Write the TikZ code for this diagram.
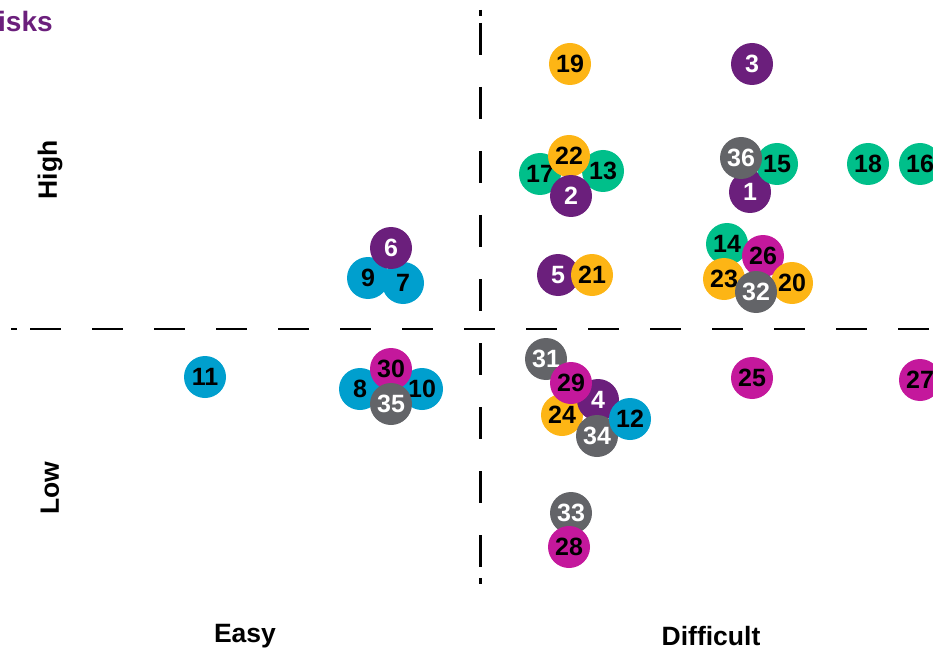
\documentclass[tikz,border=0pt]{standalone}
\usepackage{fontspec}
\setmainfont{Liberation Sans}
\usepackage{tikz}

\definecolor{rpurple}{HTML}{6B1F7C}
\definecolor{rorange}{HTML}{FDB515}
\definecolor{rgreen}{HTML}{00BF8A}
\definecolor{rblue}{HTML}{009FCE}
\definecolor{rmagenta}{HTML}{C4189C}
\definecolor{rgray}{HTML}{636468}

\begin{document}
\begin{tikzpicture}[
    x = 1pt, y = -1pt,
    risk/.style = {circle, inner sep = 0pt, minimum size = 42pt,
      font = \fontsize{25}{25}\selectfont\bfseries},
    purplerisk/.style = {risk, fill = rpurple, text = white},
    grayrisk/.style = {risk, fill = rgray, text = white},
    orangerisk/.style = {risk, fill = rorange, text = black},
    greenrisk/.style = {risk, fill = rgreen, text = black},
    bluerisk/.style = {risk, fill = rblue, text = black},
    magentarisk/.style = {risk, fill = rmagenta, text = black},
    axislabel/.style = {font = \fontsize{26.5}{26.5}\selectfont\bfseries},
    hdash/.style = {line width = 2.8pt, dash pattern = on 6pt off 13pt
      on 31pt off 31pt on 31pt off 31pt on 31pt off 31pt on 31pt off 31pt
      on 31pt off 31pt on 31pt off 31pt on 31pt off 31pt on 31pt off 31pt
      on 31pt off 31pt on 31pt off 31pt on 31pt off 31pt on 31pt off 31pt
      on 31pt off 31pt on 31pt off 31pt on 31pt off 31pt},
    vdash/.style = {line width = 2.8pt, dash pattern = on 6pt off 7pt
      on 32pt off 32pt on 32pt off 32pt on 32pt off 32pt on 32pt off 32pt
      on 32pt off 32pt on 32pt off 32pt on 32pt off 32pt on 32pt off 32pt
      on 32pt off 11pt on 6pt off 40pt}
  ]
  \useasboundingbox (0,0) rectangle (933,652);

  % Quadrant lines
  \coordinate (hstart) at (11,329);
  \coordinate (hend) at (929,329);
  \coordinate (vstart) at (480.5,10);
  \coordinate (vend) at (480.5,586);
  \draw[hdash] (hstart) -- (hend);
  \draw[vdash] (vstart) -- (vend);

  % Axis labels
  \node[anchor = west, inner sep = 0pt, text = rpurple,
    font = \fontsize{28}{28}\selectfont\bfseries]
    (title) at (-2,21) {isks};
  \node[axislabel, rotate = 90] (high) at (50,170) {High};
  \node[axislabel, rotate = 90] (low) at (50,488) {Low};
  \node[axislabel] (easy) at (245,636) {Easy};
  \node[axislabel] (difficult) at (711,636) {Difficult};

  % Risks, high impact
  \node[orangerisk] (r19) at (570,64) {19};
  \node[purplerisk] (r3) at (752,64) {3};
  \node[greenrisk] (r17) at (540,174) {17};
  \node[greenrisk] (r13) at (603,171) {13};
  \node[orangerisk] (r22) at (569,156) {22};
  \node[purplerisk] (r2) at (571,196) {2};
  \node[purplerisk] (r1) at (750,192) {1};
  \node[greenrisk] (r15) at (777,164) {15};
  \node[grayrisk] (r36) at (741,158) {36};
  \node[greenrisk] (r18) at (868,164) {18};
  \node[greenrisk] (r16) at (920,164) {16};
  \node[bluerisk] (r9) at (368,278) {9};
  \node[bluerisk] (r7) at (403,283) {7};
  \node[purplerisk] (r6) at (391,248) {6};
  \node[purplerisk] (r5) at (558,275) {5};
  \node[orangerisk] (r21) at (592,275) {21};
  \node[greenrisk] (r14) at (727,244) {14};
  \node[magentarisk] (r26) at (763,256) {26};
  \node[orangerisk] (r20) at (792,283) {20};
  \node[orangerisk] (r23) at (724,279) {23};
  \node[grayrisk] (r32) at (756,292) {32};

  % Risks, low impact
  \node[bluerisk] (r11) at (205,377) {11};
  \node[bluerisk] (r8) at (360,389) {8};
  \node[bluerisk] (r10) at (422,389) {10};
  \node[magentarisk] (r30) at (391,369) {30};
  \node[grayrisk] (r35) at (391,404) {35};
  \node[grayrisk] (r31) at (546,359) {31};
  \node[orangerisk] (r24) at (562,415) {24};
  \node[purplerisk] (r4) at (598,400) {4};
  \node[magentarisk] (r29) at (571,383) {29};
  \node[grayrisk] (r34) at (597,436) {34};
  \node[bluerisk] (r12) at (630,419) {12};
  \node[magentarisk] (r25) at (752,378) {25};
  \node[magentarisk] (r27) at (920,380) {27};
  \node[grayrisk] (r33) at (571,513) {33};
  \node[magentarisk] (r28) at (569,547) {28};
\end{tikzpicture}
\end{document}
